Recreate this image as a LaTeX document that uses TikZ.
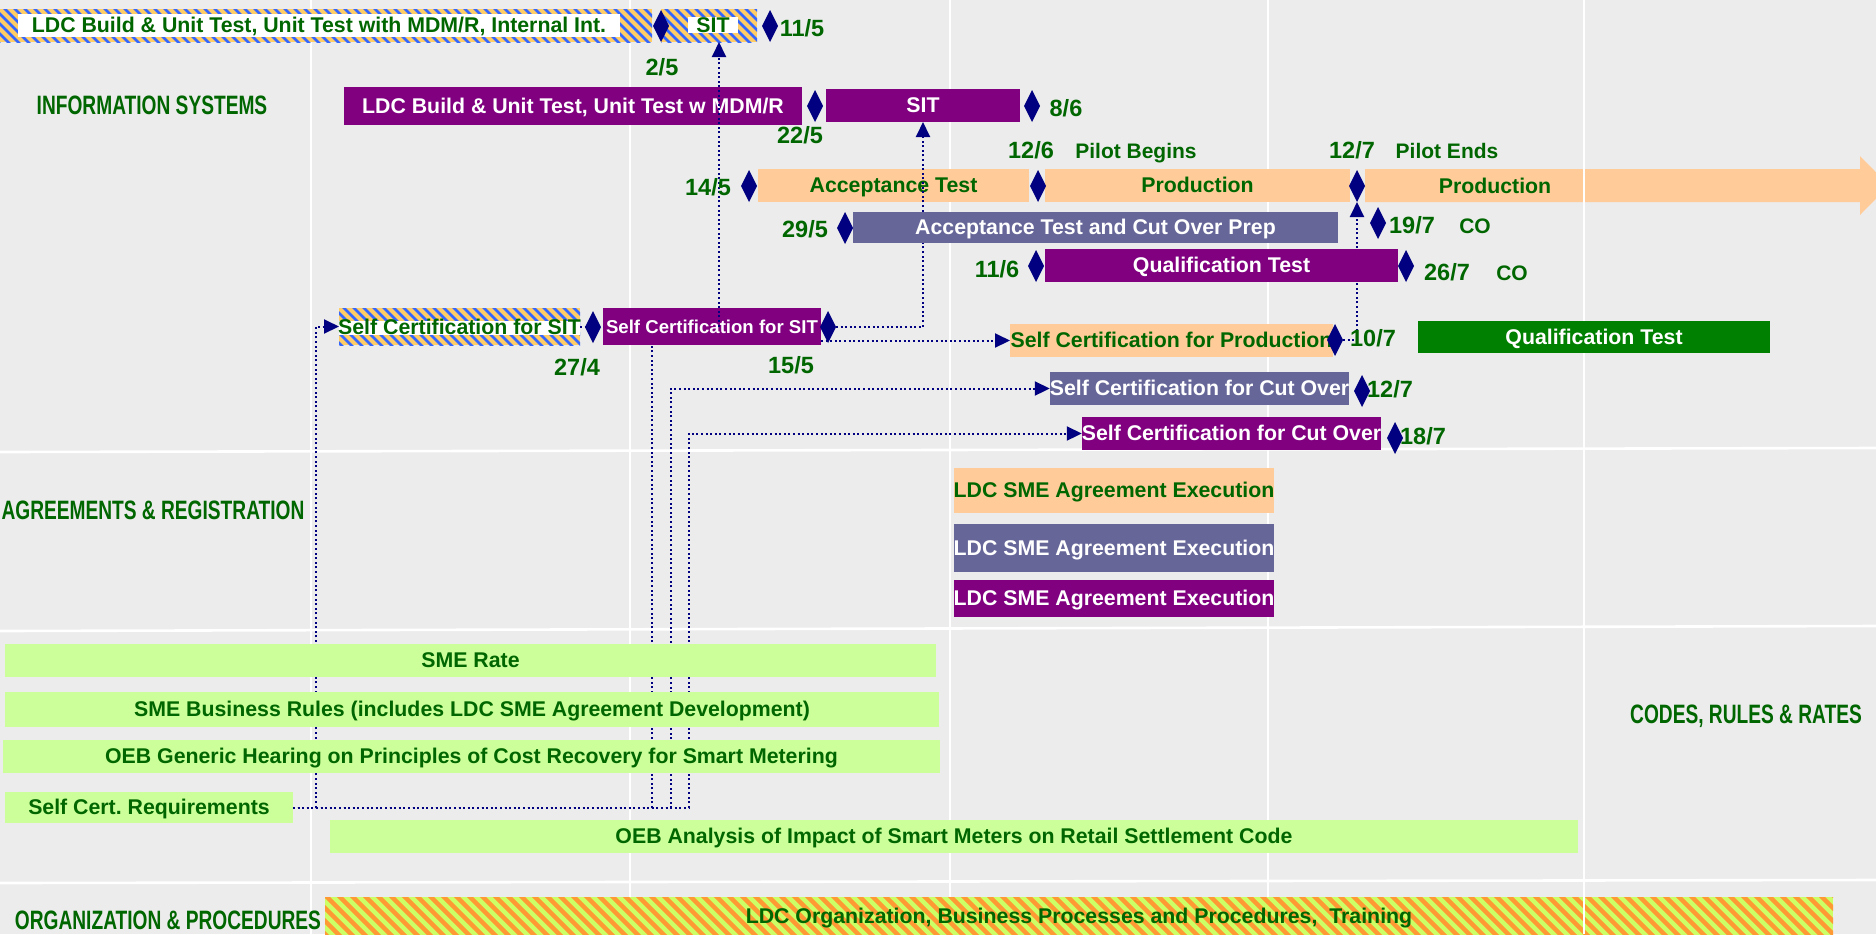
\documentclass[tikz,border=0pt]{standalone}
\usepackage{fontspec}
\setmainfont{Liberation Sans}
\newfontfamily\condfont{Liberation Sans}[FakeStretch=0.72]
\usetikzlibrary{shapes.geometric,arrows.meta,calc}
\definecolor{bg}{HTML}{ECECEC}
\definecolor{dgreen}{HTML}{006600}
\definecolor{purp}{HTML}{800080}
\definecolor{slate}{HTML}{666699}
\definecolor{peach}{HTML}{FFCC99}
\definecolor{qgreen}{HTML}{008000}
\definecolor{limeb}{HTML}{CCFF99}
\definecolor{navyd}{HTML}{000080}
\definecolor{hor}{HTML}{FFCC66}
\definecolor{hblue}{HTML}{3366FF}
\definecolor{borange}{HTML}{FF9933}
\definecolor{blime}{HTML}{CCFF66}
\tikzset{
  bx/.style={rectangle, inner sep=0pt, outer sep=0pt, text height=0.72em, text depth=0pt, font=\bfseries\fontsize{10.65}{12}\selectfont},
  pbox/.style={bx, fill=purp, text=white},
  sbox/.style={bx, fill=slate, text=white},
  obox/.style={bx, fill=peach, text=dgreen},
  lbox/.style={bx, fill=limeb, text=dgreen},
  gbox/.style={bx, fill=qgreen, text=white},
  wbox/.style={bx, fill=white, text=dgreen},
  txt/.style={bx, text=dgreen},
  hatchbl/.style={bx, path picture={
      \fill[hor] (path picture bounding box.south west) rectangle (path picture bounding box.north east);
      \foreach \k in {0,...,75}{\draw[hblue, line width=1.3pt] ($(path picture bounding box.north west)+(\k*10-50,-5)$) -- ++(60,60);}
  }},
  hatchog/.style={bx, path picture={
      \fill[blime] (path picture bounding box.south west) rectangle (path picture bounding box.north east);
      \foreach \k in {0,...,125}{\draw[borange, line width=2.2pt] ($(path picture bounding box.north west)+(\k*13-55,-5)$) -- ++(70,70);}
  }},
  dm/.style={diamond, fill=navyd, inner sep=0pt, outer sep=0pt, minimum width=8pt, minimum height=16pt},
  date/.style={text=dgreen, inner sep=0pt, text height=0.72em, text depth=0pt, font=\bfseries\fontsize{11.75}{13}\selectfont},
  lbl/.style={text=dgreen, inner sep=0pt, text height=0.72em, text depth=0pt, font=\bfseries\fontsize{10.5}{12}\selectfont},
  sec/.style={text=dgreen, inner sep=0pt, text height=0.72em, text depth=0pt, font=\condfont\bfseries\fontsize{13.3}{15}\selectfont},
  conn/.style={draw=navyd, line width=1pt, dash pattern=on 1pt off 1.3pt},
  arr/.style={-{Triangle[length=7.5pt,width=7pt]}},
  grid/.style={white, line width=1.3pt}
}
\newcommand\mybox[7]{\node[#2, minimum width={(#5-(#3))*0.5pt}, minimum height={(#6-(#4))*0.5pt}] (#1) at ({(#3+#5)/2},{(#4+#6)/2}) {#7};}
\begin{document}
\begin{tikzpicture}[x=0.5pt, y=-0.5pt]
\useasboundingbox (0,0) rectangle (1876,934);
\clip (0,0) rectangle (1876,934);
\fill[bg] (0,0) rectangle (1876,934);
% grid
\draw[grid] (311,0)--(311,934) (630,0)--(630,934) (950,0)--(950,934) (1268,0)--(1268,934) (1584,0)--(1584,934);
\draw[grid] (0,452)--(1876,448) (0,631)--(1876,626) (0,883)--(1876,880);
% top row
\mybox{hA1}{hatchbl}{0}{9}{652}{42}{}
\mybox{hA1t}{wbox}{18}{14}{620}{37}{LDC Build \& Unit Test, Unit Test with MDM/R, Internal Int.}
\mybox{sitA}{hatchbl}{661}{9}{757}{42}{}
\mybox{sitAt}{wbox}{688}{17}{738}{33}{SIT}
% IS row 2
\mybox{ldcB}{pbox}{344}{87}{802}{125}{LDC Build \& Unit Test, Unit Test w MDM/R}
\mybox{sitB}{pbox}{826}{89}{1020}{122}{SIT}
% row 3
\mybox{acc}{obox}{758}{169}{1029}{202}{Acceptance Test}
\mybox{prod1}{obox}{1045}{169}{1350}{202}{Production}
\fill[peach] (1365,169) -- (1860,169) -- (1860,156) -- (1889,185.5) -- (1860,215) -- (1860,202) -- (1365,202) -- cycle;
\node[txt] (prod2) at (1495,186) {Production};
% self certification rows
\mybox{scA}{hatchbl}{339}{308}{580}{345}{}
\mybox{scAw}{bx,fill=white}{339}{321}{580}{335}{}
\node[txt] (scAt) at (459.5,327) {Self Certification for SIT};
\mybox{sc2}{pbox,font=\bfseries\fontsize{9.3}{11}\selectfont}{603}{308}{821}{345}{Self Certification for SIT}
\mybox{scp}{obox}{1010}{324}{1333}{357}{Self Certification for Production}
\mybox{scco1}{sbox}{1050}{372}{1349}{405}{Self Certification for Cut Over}
\mybox{scco2}{pbox}{1082}{417}{1381}{450}{Self Certification for Cut Over}
\mybox{scr}{lbox}{5}{792}{293}{823}{Self Cert.\ Requirements}
% organization bar
\mybox{org}{hatchog}{325}{897}{1833}{940}{}
\node[txt] (orgt) at (1079,916) {LDC Organization, Business Processes and Procedures,\ \ Training};
\draw[grid] (1584,0)--(1584,934);
\mybox{qtg}{gbox}{1418}{321}{1770}{353}{Qualification Test}
% diamonds
\node[dm] (dA1) at (661,26) {};
\node[dm] (dA2) at (770,26) {};
\node[dm] (dB1) at (815,106) {};
\node[dm] (dB2) at (1032,106) {};
\node[dm] (d145) at (749,186) {};
\node[dm] (d126) at (1038,186) {};
\node[dm] (d127) at (1357,186) {};
\node[dm] (d274) at (593,327) {};
\node[dm] (d155) at (828,327) {};
\node[dm] (d107) at (1335,340) {};
% connectors
\draw[conn] (scA.east) -- (sc2.west);
\draw[conn,arr] ([xshift=5pt]sitA.south |- sc2.center) -- ([xshift=5pt]sitA.south);
\draw[conn,arr] (d155.east) -| (sitB.south);
\draw[conn,arr] (sc2.east |- scp.west) -- (scp.west);
\draw[conn,arr] (d107.east) -| (d127.south);
\draw[conn,arr] (scr.east) -| ($(scA.west)+(-23,0)$) -- (scA.west);
\draw[conn] (scr.east) -| ($(sc2.south)+(-60,0)$);
\draw[conn,arr] (scr.east) -| ($(scco1.west)+(-379,0)$) -- (scco1.west);
\draw[conn,arr] (scr.east) -| ($(scco2.west)+(-393,0)$) -- (scco2.west);
% bars over connectors
\mybox{atco}{sbox}{853}{212}{1338}{243}{Acceptance Test and Cut Over Prep}
\mybox{qt}{pbox}{1045}{249}{1398}{282}{Qualification Test}
\mybox{sme1}{obox}{954}{468}{1274}{513}{LDC SME Agreement Execution}
\mybox{sme2}{sbox}{954}{524}{1274}{572}{LDC SME Agreement Execution}
\mybox{sme3}{pbox}{954}{580}{1274}{617}{LDC SME Agreement Execution}
\mybox{rate}{lbox}{5}{644}{936}{677}{SME Rate}
\mybox{rules}{lbox}{5}{692}{939}{727}{SME Business Rules (includes LDC SME Agreement Development)}
\mybox{oeb}{lbox}{3}{740}{940}{773}{OEB Generic Hearing on Principles of Cost Recovery for Smart Metering}
\mybox{oeba}{lbox}{330}{820}{1578}{853}{OEB Analysis of Impact of Smart Meters on Retail Settlement Code}
% remaining diamonds
\node[dm] (d295) at (845,228) {};
\node[dm] (d197) at (1378,223) {};
\node[dm] (d116) at (1036,266) {};
\node[dm] (d267) at (1406,266) {};
\node[dm] (d127b) at (1362,391) {};
\node[dm] (d187) at (1395,438) {};
% labels
\node[date] (l115) at (802,29) {11/5};
\node[date] (l25) at (662,68) {2/5};
\node[date] (l86) at (1066,109) {8/6};
\node[date] (l225) at (800,136) {22/5};
\node[date] (l126) at (1031,151) {12/6};
\node[lbl] (lpb) at (1136,151) {Pilot Begins};
\node[date] (l127) at (1352,151) {12/7};
\node[lbl] (lpe) at (1447,151) {Pilot Ends};
\node[date] (l145) at (708,188) {14/5};
\node[date] (l295) at (805,230) {29/5};
\node[date] (l197) at (1412,226) {19/7};
\node[lbl] (lco1) at (1475,226) {CO};
\node[date] (l116) at (997,270) {11/6};
\node[date] (l267) at (1447,273) {26/7};
\node[lbl] (lco2) at (1512,273) {CO};
\node[date] (l274) at (577,368) {27/4};
\node[date] (l155) at (791,366) {15/5};
\node[date] (l107) at (1373,339) {10/7};
\node[date] (l127b) at (1390,390) {12/7};
\node[date] (l187) at (1423,437) {18/7};
% section labels
\node[sec] (sIS) at (152,107) {INFORMATION SYSTEMS};
\node[sec] (sAR) at (153,512) {AGREEMENTS \& REGISTRATION};
\node[sec] (sCR) at (1746,716) {CODES, RULES \& RATES};
\node[sec] (sOP) at (168,922) {ORGANIZATION \& PROCEDURES};
\end{tikzpicture}
\end{document}
